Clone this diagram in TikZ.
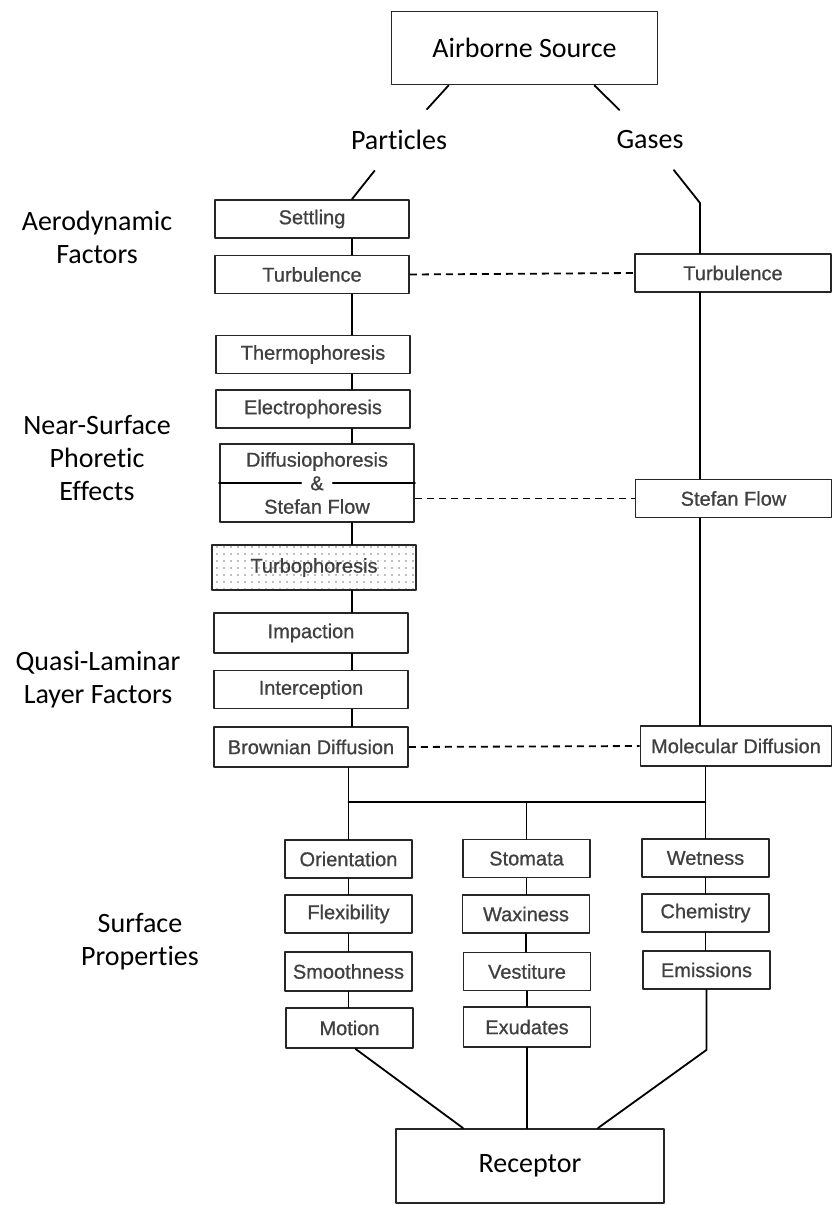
\documentclass[tikz,border=0pt]{standalone}
\usepackage{fontspec}
\setmainfont{Carlito}[Ligatures=NoCommon]
\newfontfamily\boxfont{Liberation Sans}[FakeBold=0.8]
\usetikzlibrary{patterns.meta}

\begin{document}
\begin{tikzpicture}[x=1pt, y=-1pt, line width=1.8pt, line cap=round, line join=round]
	\tikzset{
		factor/.style={draw=black!85, fill=white, inner sep=0pt, minimum width=194pt, minimum height=38pt,
			font=\boxfont\fontsize{20}{23.5}\selectfont, text=black!75},
		prop/.style={factor, minimum width=127pt},
		bigbox/.style={draw=black!85, fill=white, minimum width=266pt, minimum height=73pt, font=\fontsize{28}{34}\selectfont},
		phase/.style={inner xsep=3pt, inner ysep=20pt, font=\fontsize{28}{34}\selectfont},
		group label/.style={align=center, font=\fontsize{28}{33}\selectfont},
		link/.style={dash pattern=on 7pt off 5pt, line cap=butt}
	}
	\useasboundingbox (0,0) rectangle (833,1205);
	% source and the two phases
	\node[bigbox] (src) at (524.5,48) {Airborne Source};
	\node[phase] (part) at (399,140) {Particles};
	\node[phase] (gas) at (650,140) {Gases};
	\draw ([xshift=58pt]src.south west) -- (part);
	\draw ([xshift=-64pt]src.south east) -- (gas);
	% group labels
	\node[group label] (aero) at (97,237) {Aerodynamic\\Factors};
	\node[group label] (near) at (97,458) {Near-Surface\\Phoretic\\Effects};
	\node[group label] (quasi) at (98,680) {Quasi-Laminar\\Layer Factors};
	\node[group label] (surf) at (140,942) {Surface\\Properties};
	% particle column
	\node[factor] (settle) at (312,219) {Settling};
	\node[factor] (turbL) at (312,274.5) {Turbulence};
	\node[factor] (thermo) at (313,354.5) {Thermophoresis};
	\node[factor] (electro) at (313,409) {Electrophoresis};
	\node[factor, minimum height=78pt, align=center] (diffu) at (317,483) {Diffusiophoresis\\\&\\Stefan Flow};
	\node[factor, minimum width=204pt, minimum height=45pt, pattern={Dots[distance=7pt, radius=0.8pt]}, pattern color=black!50] (turbo) at (314,567.5) {Turbophoresis};
	\node[factor, minimum height=40pt] (impact) at (311,633) {Impaction};
	\node[factor] (intercept) at (311,689.5) {Interception};
	\node[factor, minimum height=40pt] (brown) at (311,747) {Brownian Diffusion};
	\draw (diffu.west) -- ++(82,0);
	\draw (diffu.east) -- ++(-82,0);
	\coordinate (spL) at (352,0);
	\draw (part) -- (settle.north -| spL);
	\foreach \a/\b in {settle/turbL, turbL/thermo, thermo/electro, electro/diffu, diffu/turbo, turbo/impact, impact/intercept, intercept/brown}
		\draw (\a.south -| spL) -- (\b.north -| spL);
	% gas column
	\node[factor, minimum width=196pt] (turbR) at (733,273) {Turbulence};
	\node[factor, minimum width=196pt] (stefan) at (733.5,498.5) {Stefan Flow};
	\node[factor, minimum width=191pt, minimum height=40pt] (molec) at (736,746) {Molecular Diffusion};
	\coordinate (gbend) at (700,203);
	\draw (gas) -- (gbend) -- (turbR.north -| gbend);
	\draw (turbR.south -| gbend) -- (stefan.north -| gbend);
	\draw (stefan.south -| gbend) -- (molec.north -| gbend);
	% analogues
	\draw[link] (turbL.east) -- (turbR.west);
	\draw[link] (stefan.west -| diffu.east) -- (stefan.west);
	\draw[link] (brown.east) -- (molec.west);
	% surface properties
	\node[prop] (orient) at (348.5,859) {Orientation};
	\node[prop] (flex) at (348.5,914) {Flexibility};
	\node[prop, minimum height=39pt] (smooth) at (348.5,971.5) {Smoothness};
	\node[prop, minimum height=40pt] (motion) at (349.5,1028) {Motion};
	\node[prop] (stom) at (526.5,858.5) {Stomata};
	\node[prop] (wax) at (526,914) {Waxiness};
	\node[prop] (vest) at (527,971.5) {Vestiture};
	\node[prop, minimum height=40pt] (exud) at (527,1027) {Exudates};
	\node[prop] (wet) at (705.5,858) {Wetness};
	\node[prop] (chem) at (705.5,913) {Chemistry};
	\node[prop] (emis) at (706.5,970) {Emissions};
	\coordinate (bus) at (0,802);
	\draw (brown.south -| orient.north) -- (orient.north);
	\draw (molec.south -| wet.north) -- (wet.north);
	\draw (bus -| orient.north) -- (bus -| wet.north);
	\draw (bus -| stom.north) -- (stom.north);
	\foreach \a/\b in {orient/flex, flex/smooth, smooth/motion, stom/wax, wax/vest, vest/exud, wet/chem, chem/emis}
		\draw (\a.south) -- (\a.south |- \b.north);
	% receptor
	\node[bigbox, minimum width=268pt, minimum height=74pt] (recep) at (530,1166) {Receptor};
	\draw ([xshift=6pt]motion.south) -- ([xshift=68pt]recep.north west);
	\draw (exud.south) -- (exud.south |- recep.north);
	\draw (emis.south) -- ++(0,60) -- ([xshift=-67pt]recep.north east);
\end{tikzpicture}
\end{document}
